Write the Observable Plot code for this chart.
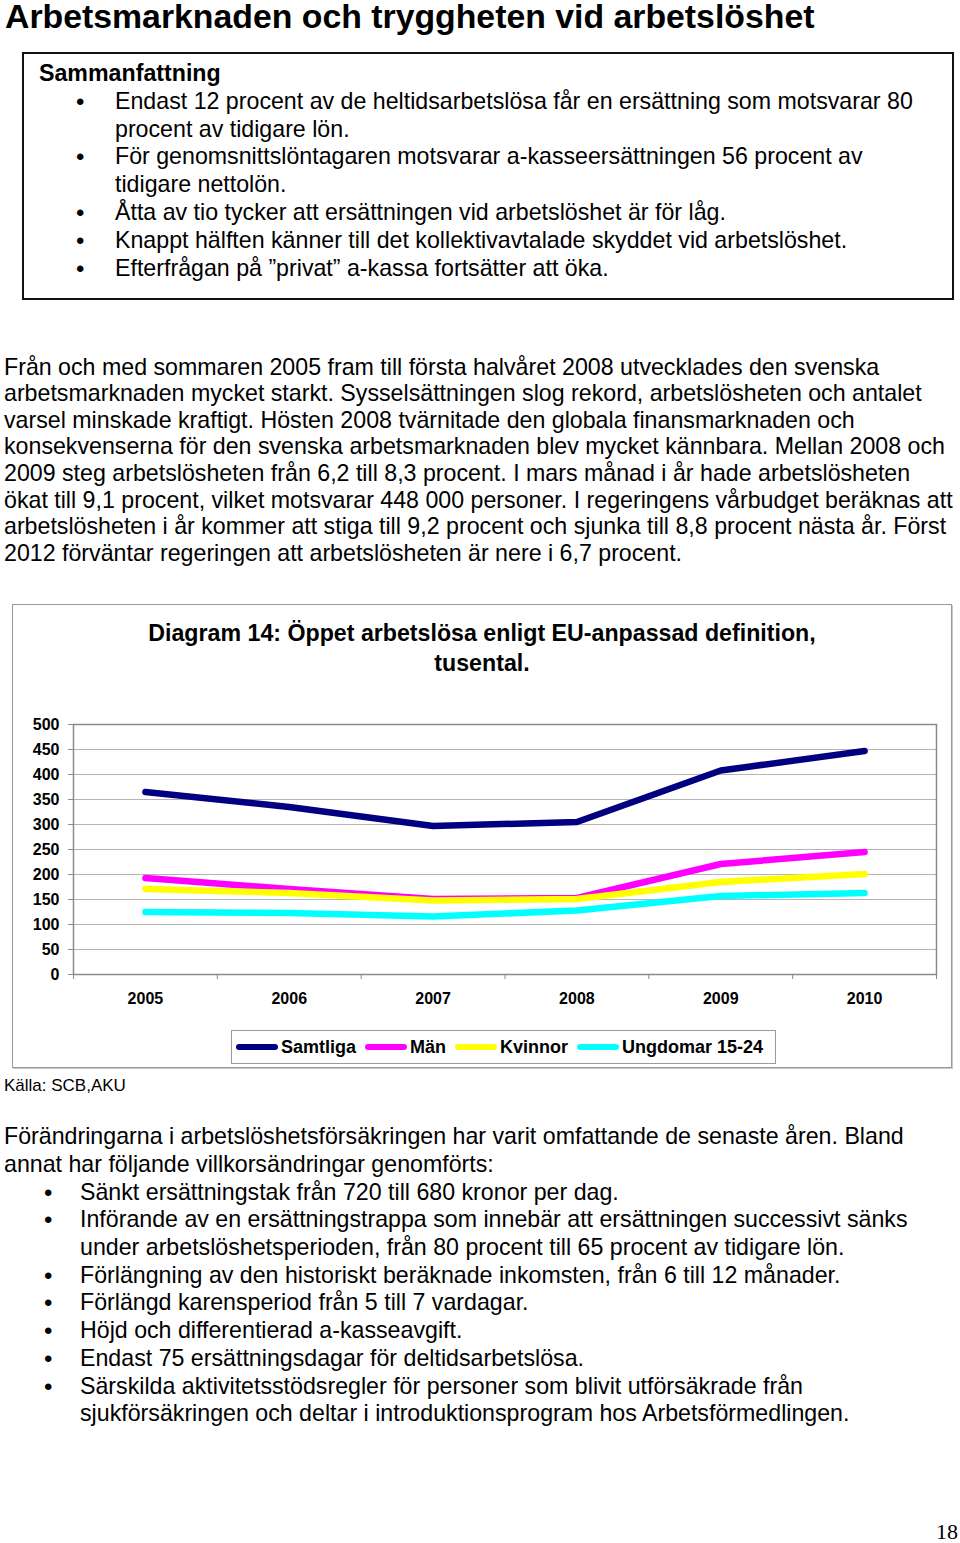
<!DOCTYPE html>
<html>
<head>
<meta charset="utf-8">
<script src="https://cdn.jsdelivr.net/npm/d3@7"></script>
<script src="https://cdn.jsdelivr.net/npm/@observablehq/plot@0.6"></script>
<style>
  html, body { margin: 0; padding: 0; background: #fff; }
  body { width: 960px; height: 1543px; position: relative; overflow: hidden;
         font-family: "Liberation Sans", Arial, sans-serif; color: #000; }
  .abs { position: absolute; white-space: nowrap; }
  .title { left: 5px; top: -2px; font-size: 33.8px; font-weight: bold; line-height: 36px; }
  .box { position: absolute; left: 22px; top: 52px; width: 932px; height: 248px;
         border: 2px solid #111; box-sizing: border-box; }
  .t23 { font-size: 23.2px; }
  .bullet { position: absolute; font-size: 24px; }
  .chartbox { position: absolute; left: 12px; top: 604px; width: 940px; height: 464px;
              border: 1px solid #9a9a9a; box-sizing: border-box; box-shadow: 1px 1px 0 #c8c8c8; }
  .ctitle { position: absolute; left: 12px; width: 940px; text-align: center; top: 618px;
            font-size: 23.2px; font-weight: bold; line-height: 30px; }
  #chart { position: absolute; left: 12px; top: 700px; }
  .legend { position: absolute; left: 231px; top: 1030px; width: 545px; height: 34px;
            border: 1px solid #9a9a9a; box-sizing: border-box; display: flex; align-items: center;
            padding-left: 4px; gap: 9px; font-size: 18px; font-weight: bold; }
  .legend .item { display: flex; align-items: center; gap: 3px; }
  .legend .sw { width: 42px; height: 6px; border-radius: 3px; }
</style>
</head>
<body>
<div class="abs title">Arbetsmarknaden och tryggheten vid arbetslöshet</div>

<div class="box"></div>
<div class="abs t23" style="left:39px; top:60px; line-height:27.8px; font-weight:bold;">Sammanfattning</div>
<div class="abs t23" style="left:115px; top:87.8px; line-height:27.8px;">Endast 12 procent av de heltidsarbetslösa får en ersättning som motsvarar 80<br>procent av tidigare lön.<br>För genomsnittslöntagaren motsvarar a-kasseersättningen 56 procent av<br>tidigare nettolön.<br>Åtta av tio tycker att ersättningen vid arbetslöshet är för låg.<br>Knappt hälften känner till det kollektivavtalade skyddet vid arbetslöshet.<br>Efterfrågan på ”privat” a-kassa fortsätter att öka.</div>
<div class="abs bullet" style="left:76px; top:87.8px; line-height:27.8px;">•<br><br>•<br><br>•<br>•<br>•</div>

<div class="abs t23" style="left:4px; top:353.7px; line-height:26.6px;">Från och med sommaren 2005 fram till första halvåret 2008 utvecklades den svenska<br>arbetsmarknaden mycket starkt. Sysselsättningen slog rekord, arbetslösheten och antalet<br>varsel minskade kraftigt. Hösten 2008 tvärnitade den globala finansmarknaden och<br>konsekvenserna för den svenska arbetsmarknaden blev mycket kännbara. Mellan 2008 och<br>2009 steg arbetslösheten från 6,2 till 8,3 procent. I mars månad i år hade arbetslösheten<br>ökat till 9,1 procent, vilket motsvarar 448 000 personer. I regeringens vårbudget beräknas att<br>arbetslösheten i år kommer att stiga till 9,2 procent och sjunka till 8,8 procent nästa år. Först<br>2012 förväntar regeringen att arbetslösheten är nere i 6,7 procent.</div>

<div class="chartbox"></div>
<div class="ctitle">Diagram 14: Öppet arbetslösa enligt EU-anpassad definition,<br>tusental.</div>
<div id="chart"></div>
<div class="legend" id="legend"></div>

<div class="abs" style="left:4px; top:1076px; font-size:17px; line-height:20px;">Källa: SCB,AKU</div>

<div class="abs t23" style="left:4px; top:1123.2px; line-height:27.7px;">Förändringarna i arbetslöshetsförsäkringen har varit omfattande de senaste åren. Bland<br>annat har följande villkorsändringar genomförts:</div>
<div class="abs t23" style="left:80px; top:1178.6px; line-height:27.7px;">Sänkt ersättningstak från 720 till 680 kronor per dag.<br>Införande av en ersättningstrappa som innebär att ersättningen successivt sänks<br>under arbetslöshetsperioden, från 80 procent till 65 procent av tidigare lön.<br>Förlängning av den historiskt beräknade inkomsten, från 6 till 12 månader.<br>Förlängd karensperiod från 5 till 7 vardagar.<br>Höjd och differentierad a-kasseavgift.<br>Endast 75 ersättningsdagar för deltidsarbetslösa.<br>Särskilda aktivitetsstödsregler för personer som blivit utförsäkrade från<br>sjukförsäkringen och deltar i introduktionsprogram hos Arbetsförmedlingen.</div>
<div class="abs bullet" style="left:44px; top:1178.6px; line-height:27.7px;">•<br>•<br><br>•<br>•<br>•<br>•<br>•</div>

<div class="abs" style="left:936px; top:1519px; font-family:'Liberation Serif','Times New Roman',serif; font-size:22px; line-height:26px;">18</div>

<script>
// ---- Data (thousands) ----
const years = [2005, 2006, 2007, 2008, 2009, 2010];
const samtliga = [365, 335, 297, 305, 408, 447];
const man = [193, 171, 151, 153, 221, 245];
const kvinnor = [171, 163, 148, 151, 185, 201];
const ungdomar = [125, 123, 116, 128, 157, 163];
const seriesNames = ["Samtliga", "Män", "Kvinnor", "Ungdomar 15-24"];
const seriesColors = ["#000080", "#ff00ff", "#ffff00", "#00ffff"];
const yTicks = [0, 50, 100, 150, 200, 250, 300, 350, 400, 450, 500];

const seriesValues = [samtliga, man, kvinnor, ungdomar];
const data = seriesNames.flatMap((name, i) =>
  years.map((year, j) => ({series: name, year, value: seriesValues[i][j]})));
// category boundaries for the x-axis tick marks
const boundaries = years.map(y => y - 0.5).concat([years[years.length - 1] + 0.5]);

const chart = Plot.plot({
  width: 940,
  height: 314,
  marginLeft: 61,
  marginRight: 16,
  marginTop: 24,
  marginBottom: 40,
  style: {fontFamily: "'Liberation Sans', Arial, sans-serif", fontSize: "16px",
          fontWeight: "bold", color: "#000", background: "transparent", overflow: "visible"},
  x: {domain: [boundaries[0], boundaries[boundaries.length - 1]]},
  y: {domain: [0, 500]},
  color: {domain: seriesNames, range: seriesColors},
  marks: [
    Plot.gridY(yTicks, {stroke: "#b4b4b4", strokeOpacity: 1, strokeWidth: 1}),
    Plot.frame({stroke: "#8a8a8a", strokeWidth: 1.5}),
    Plot.axisY(yTicks, {tickSize: 5, tickPadding: 9, stroke: "#8a8a8a", label: null,
                        tickFormat: d => String(d)}),
    Plot.axisX(boundaries, {tickSize: 5, tickFormat: () => "", stroke: "#8a8a8a", label: null}),
    Plot.axisX(years, {tickSize: 0, tickPadding: 18, tickFormat: d => String(d), label: null}),
    Plot.line(data, {x: "year", y: "value", z: "series", stroke: "series",
                     strokeWidth: 6.5, strokeLinecap: "round", strokeLinejoin: "round"})
  ]
});
document.getElementById("chart").appendChild(chart);

// legend
const legend = document.getElementById("legend");
seriesNames.forEach((name, i) => {
  const item = document.createElement("div");
  item.className = "item";
  const sw = document.createElement("div");
  sw.className = "sw";
  sw.style.background = seriesColors[i];
  const label = document.createElement("span");
  label.textContent = name;
  item.appendChild(sw);
  item.appendChild(label);
  legend.appendChild(item);
});
</script>
</body>
</html>
